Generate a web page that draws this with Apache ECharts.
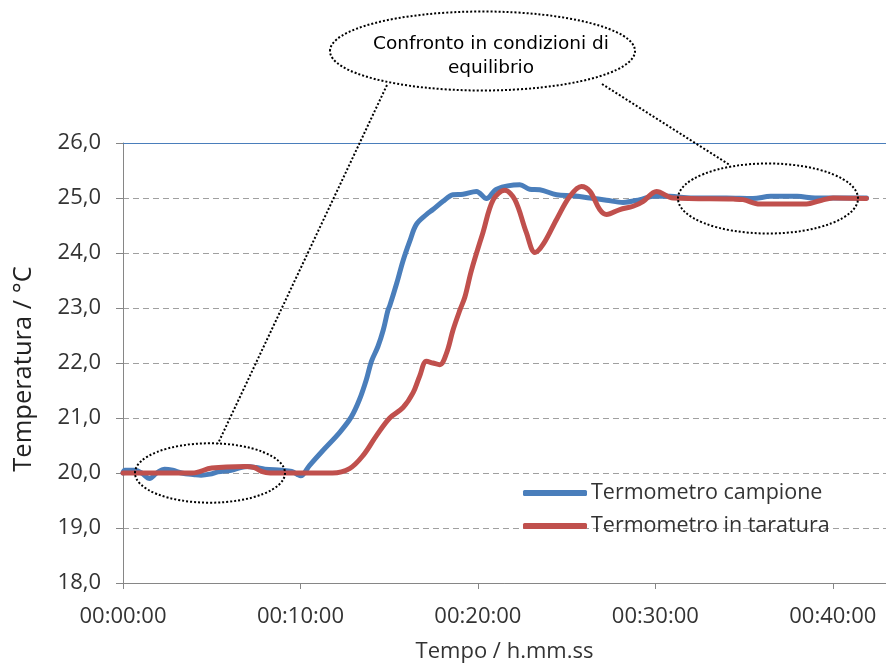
<!DOCTYPE html>
<html>
<head>
<meta charset="utf-8">
<script src="https://cdn.jsdelivr.net/npm/echarts@6/dist/echarts.min.js"></script>
<style>
html,body{margin:0;padding:0;background:#fff;}
#c{width:886px;height:668px;}
</style>
</head>
<body>
<div id="c"></div>
<script>
// Time in seconds from start, temperature in °C
const campioneTime = [0,6,40,63,90,114,141,168,198,242,264,294,321,366,420,450,480,537,570,591,601,631,676,733,772,800,823,840,862,880,896,902,925,947,970,992,1026,1048,1082,1116,1150,1195,1229,1263,1342,1375,1409,1466,1522,1579,1635,1691,1748,1793,1849,1920,2040,2130,2190,2280,2340,2400,2514];
const campioneTemp = [20.0,20.05,20.05,20.0,19.9,20.0,20.07,20.05,20.0,19.97,19.96,19.98,20.02,20.05,20.12,20.1,20.07,20.05,20.03,19.97,19.95,20.14,20.41,20.74,21.02,21.34,21.70,22.03,22.30,22.60,22.96,23.04,23.44,23.86,24.22,24.52,24.70,24.79,24.94,25.06,25.07,25.12,24.99,25.16,25.24,25.16,25.15,25.06,25.04,25.0,24.96,24.92,24.97,25.03,25.03,25.0,25.0,24.99,25.03,25.03,25.0,25.0,25.0];
const taraturaTime = [0,234,300,412,444,468,498,708,766,812,857,902,947,981,1003,1026,1048,1071,1094,1116,1139,1156,1178,1217,1252,1291,1325,1364,1393,1421,1466,1511,1550,1579,1612,1635,1680,1725,1759,1804,1860,2063,2097,2153,2232,2311,2356,2401,2514];
const taraturaTemp = [20.0,20.0,20.09,20.12,20.10,20.03,20.0,20.0,20.08,20.32,20.68,21.0,21.19,21.46,21.76,22.03,22.0,21.97,22.18,22.6,22.96,23.2,23.68,24.37,24.97,25.14,24.97,24.37,24.01,24.16,24.61,25.03,25.21,25.12,24.79,24.70,24.79,24.85,24.94,25.12,25.0,24.98,24.97,24.89,24.89,24.89,24.95,25.0,24.99];
const xTicks = [0,600,1200,1800,2400];
const xMax = 2580;
const yMin = 18, yMax = 26;
const seriesNames = ['Termometro campione','Termometro in taratura'];
const annotationText = 'Confronto in condizioni di\nequilibrio';

function fmtTime(s){
  const h = Math.floor(s/3600), m = Math.floor((s%3600)/60), sec = Math.round(s%60);
  const p = v => (v<10?'0':'')+v;
  return p(h)+':'+p(m)+':'+p(sec);
}
const zip = (a,b) => a.map((v,i)=>[v,b[i]]);

const chart = echarts.init(document.getElementById('c'), null, {renderer:'canvas'});
const FONT = 'Open Sans';
const dotted = {stroke:'#000', lineWidth:2, lineDash:[2,2], fill:null};
chart.setOption({
  animation:false,
  backgroundColor:'#fff',
  grid:{left:123, right:0, top:143, bottom:81, containLabel:false},
  legend:{
    orient:'vertical', left:523, top:481, padding:0, itemGap:9,
    itemWidth:64, itemHeight:6, icon:'roundRect',
    textStyle:{fontFamily:FONT, fontSize:21.5, color:'#333', lineHeight:24, padding:[0,0,0,-1]},
    data:seriesNames
  },
  xAxis:{
    type:'value', min:0, max:xMax, interval:600,
    name:'Tempo / h.mm.ss', nameLocation:'middle', nameGap:58,
    nameTextStyle:{fontFamily:FONT, fontSize:22, color:'#333'},
    axisLine:{lineStyle:{color:'#868686', width:1}},
    axisTick:{length:6, lineStyle:{color:'#868686'}, customValues:xTicks},
    axisLabel:{fontFamily:FONT, fontSize:22, color:'#333', margin:23, customValues:xTicks, formatter:fmtTime},
    splitLine:{show:false}
  },
  yAxis:{
    type:'value', min:yMin, max:yMax, interval:1,
    name:'Temperatura / °C', nameLocation:'middle', nameGap:86, nameRotate:90,
    nameTextStyle:{fontFamily:FONT, fontSize:25.5, color:'#222', padding:[0,12,0,0]},
    axisLine:{show:true, lineStyle:{color:'#868686', width:1}},
    axisTick:{show:true, length:7, lineStyle:{color:'#868686'}},
    axisLabel:{fontFamily:FONT, fontSize:22, color:'#333', margin:22, formatter:v=>v.toFixed(1).replace('.',',')},
    splitLine:{show:true, lineStyle:{color:'#a0a0a0', type:[6,4], width:1}}
  },
  series:[
    {name:seriesNames[0], type:'line', data:zip(campioneTime,campioneTemp), showSymbol:false, smooth:0.35,
     lineStyle:{color:'#4a7ebb', width:5, cap:'round', join:'round'}, itemStyle:{color:'#4a7ebb'},
     markLine:{silent:true, symbol:'none', label:{show:false}, lineStyle:{color:'#4a7ebb', type:'solid', width:1.2},
       data:[{yAxis:yMax}]}},
    {name:seriesNames[1], type:'line', data:zip(taraturaTime,taraturaTemp), showSymbol:false, smooth:0.35,
     lineStyle:{color:'#c0504d', width:5, cap:'round', join:'round'}, itemStyle:{color:'#c0504d'}}
  ],
  graphic:[
    {type:'ellipse', shape:{cx:482.5, cy:51, rx:152.5, ry:39.5}, style:dotted, z:100, silent:true},
    {type:'ellipse', shape:{cx:210, cy:473, rx:75, ry:29.7}, style:dotted, z:100, silent:true},
    {type:'ellipse', shape:{cx:768, cy:198.5, rx:90, ry:35}, style:dotted, z:100, silent:true},
    {type:'line', shape:{x1:387, y1:85, x2:218, y2:443.5}, style:dotted, z:100, silent:true},
    {type:'line', shape:{x1:602, y1:84, x2:729, y2:164.5}, style:dotted, z:100, silent:true},
    {type:'text', x:491, y:56, z:101, silent:true, style:{text:annotationText, font:'18.5px "DejaVu Sans"', fill:'#000', align:'center', verticalAlign:'middle', lineHeight:24}}
  ]
});
</script>
</body>
</html>
